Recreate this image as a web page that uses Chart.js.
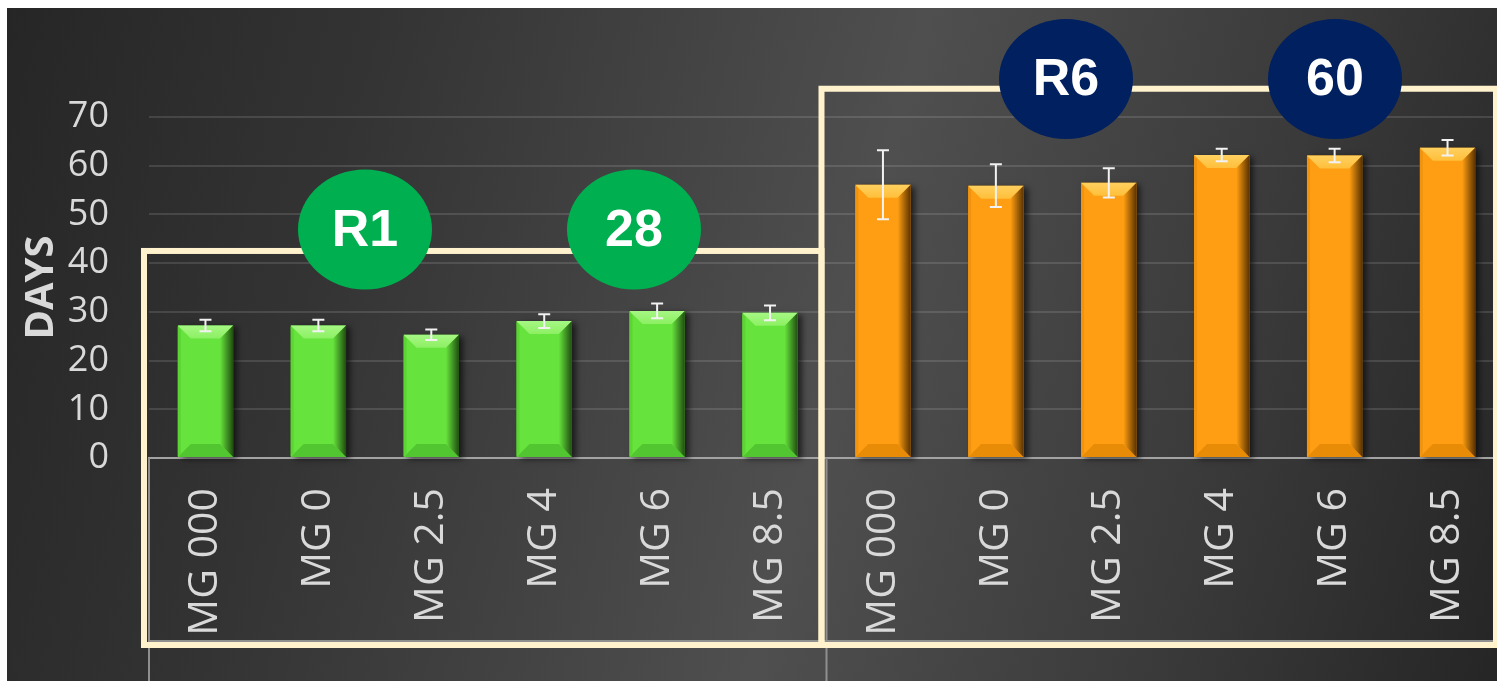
<!DOCTYPE html>
<html>
<head>
<meta charset="utf-8">
<title>Days to R1 / R6 by maturity group</title>
<script src="https://cdn.jsdelivr.net/npm/chart.js@4.4.0/dist/chart.umd.min.js"></script>
<style>
  html, body { margin: 0; padding: 0; background: #fff; overflow: hidden; }
  #wrap {
    position: absolute; left: 7px; top: 8px; width: 1497px; height: 673px;
    background: linear-gradient(105deg, #262626 0%, #333 22%, #4f4f4f 55%, #3b3b3b 78%, #252525 100%);
  }
  canvas { display: block; }
</style>
</head>
<body>
<div id="wrap"><canvas id="chart" width="1497" height="673"></canvas></div>
<script>
// =====================
// Data
// =====================
const mgLabels = ["MG 000", "MG 0", "MG 2.5", "MG 4", "MG 6", "MG 8.5"];
const r1Days = [27.2, 27.2, 25.3, 28.1, 30.2, 29.8];
const r1Err  = [1.2, 1.2, 1.1, 1.4, 1.5, 1.5];
const r6Days = [56.1, 55.9, 56.5, 62.2, 62.1, 63.7];
const r6Err  = [7.1, 4.4, 3.0, 1.3, 1.4, 1.6];
const yTicks = [0, 10, 20, 30, 40, 50, 60, 70];

const labels = mgLabels.concat(mgLabels);
const blanks = mgLabels.map(() => null);

// =====================
// Bar look (Excel bevel)
// =====================
const green  = { base: "#66e33c", top: "#8cf062", topEdge: "#a6f784", bottom: "#52c630", dark: "#1f4d10", left: "#5cd434" };
const orange = { base: "#ff9e12", top: "#ffbf3a", topEdge: "#ffd060", bottom: "#e88c08", dark: "#5a3300", left: "#f09410" };

function poly(ctx, pts, fill) {
  ctx.beginPath();
  ctx.moveTo(pts[0][0], pts[0][1]);
  for (let i = 1; i < pts.length; i++) ctx.lineTo(pts[i][0], pts[i][1]);
  ctx.closePath();
  ctx.fillStyle = fill;
  ctx.fill();
}

function drawBevel(ctx, bar, c) {
  const l = bar.x - bar.width / 2, r = bar.x + bar.width / 2;
  const t = bar.y, b = bar.base, d = 13;
  const tg = ctx.createLinearGradient(0, t, 0, t + d);
  tg.addColorStop(0, c.topEdge);
  tg.addColorStop(1, c.top);
  poly(ctx, [[l, t], [r, t], [r - d, t + d], [l + d, t + d]], tg);
  poly(ctx, [[l, b], [r, b], [r - d, b - d], [l + d, b - d]], c.bottom);
  const rg = ctx.createLinearGradient(r - d, 0, r, 0);
  rg.addColorStop(0, c.base);
  rg.addColorStop(1, c.dark);
  poly(ctx, [[r, t], [r, b], [r - d, b - d], [r - d, t + d]], rg);
  poly(ctx, [[l, t + 1], [l, b - 1], [l + 3, b - 4], [l + 3, t + 4]], c.left);
}

const errors = [r1Err, r6Err];
const looks = [green, orange];

const barPlugin = {
  id: "barStyle",
  beforeDatasetsDraw(chart) {
    const ctx = chart.ctx;
    ctx.save();
    ctx.shadowColor = "rgba(0,0,0,0.6)";
    ctx.shadowBlur = 6;
    ctx.shadowOffsetX = 4;
    ctx.shadowOffsetY = 2;
    ctx.fillStyle = "#222";
    chart.data.datasets.forEach((ds, di) => {
      chart.getDatasetMeta(di).data.forEach((bar, i) => {
        if (ds.data[i] == null) return;
        ctx.fillRect(bar.x - bar.width / 2, bar.y, bar.width, bar.base - bar.y);
      });
    });
    ctx.restore();
  },
  afterDatasetsDraw(chart) {
    const ctx = chart.ctx;
    const y = chart.scales.y;
    ctx.save();
    chart.data.datasets.forEach((ds, di) => {
      const meta = chart.getDatasetMeta(di);
      meta.data.forEach((bar, i) => {
        const v = ds.data[i];
        if (v == null) return;
        drawBevel(ctx, bar, looks[di]);
        // error bar
        const e = errors[di][i % 6];
        const yt = y.getPixelForValue(v + e), yb = y.getPixelForValue(v - e);
        ctx.strokeStyle = "#f2f2f2";
        ctx.lineWidth = 2;
        ctx.beginPath();
        ctx.moveTo(bar.x, yt); ctx.lineTo(bar.x, yb);
        ctx.moveTo(bar.x - 6, yt); ctx.lineTo(bar.x + 6, yt);
        ctx.moveTo(bar.x - 6, yb); ctx.lineTo(bar.x + 6, yb);
        ctx.stroke();
      });
    });
    ctx.restore();
  }
};

// =====================
// Group boxes + badges
// =====================
const annotPlugin = {
  id: "groups",
  afterDraw(chart) {
    const ctx = chart.ctx;
    const { left, right, bottom } = chart.chartArea;
    const x = chart.scales.x, y = chart.scales.y;
    const mid = (x.getPixelForValue(5) + x.getPixelForValue(6)) / 2;
    const H = chart.height;
    ctx.save();
    // category label frame
    ctx.strokeStyle = "#8f8f8f";
    ctx.lineWidth = 2;
    ctx.beginPath();
    ctx.moveTo(left, bottom); ctx.lineTo(left, H);
    ctx.moveTo(mid, bottom); ctx.lineTo(mid, H);
    ctx.moveTo(left, 633); ctx.lineTo(right, 633);
    ctx.stroke();
    // cream group boxes
    ctx.strokeStyle = "#fff2cc";
    ctx.lineWidth = 6;
    const t1 = y.getPixelForValue(42.5), t2 = y.getPixelForValue(75.8);
    ctx.strokeRect(left - 5, t1, mid - left, 637 - t1);
    ctx.strokeRect(mid - 5, t2, right - 3 - mid, 637 - t2);
    // badges
    const badges = [
      { text: "R1", cx: 358, cy: 221.5, color: "#00b050" },
      { text: "28", cx: 627, cy: 221.5, color: "#00b050" },
      { text: "R6", cx: 1059, cy: 71, color: "#002060" },
      { text: "60", cx: 1328, cy: 71, color: "#002060" }
    ];
    badges.forEach(b => {
      ctx.beginPath();
      ctx.ellipse(b.cx, b.cy, 67, 60, 0, 0, Math.PI * 2);
      ctx.fillStyle = b.color;
      ctx.fill();
      ctx.fillStyle = "#ffffff";
      ctx.font = "bold 52px 'Liberation Sans', Arial, sans-serif";
      ctx.textAlign = "center";
      ctx.textBaseline = "middle";
      ctx.fillText(b.text, b.cx, b.cy + 2);
    });
    ctx.restore();
  }
};

// =====================
// Chart.js
// =====================
Chart.defaults.font.family = "'Open Sans', sans-serif";

new Chart(document.getElementById("chart").getContext("2d"), {
  type: "bar",
  data: {
    labels: labels,
    datasets: [
      { label: "R1", data: r1Days.concat(blanks), backgroundColor: green.base },
      { label: "R6", data: blanks.concat(r6Days), backgroundColor: orange.base }
    ]
  },
  options: {
    responsive: false,
    animation: false,
    devicePixelRatio: 1,
    grouped: false,
    barPercentage: 0.49,
    categoryPercentage: 1.0,
    layout: { padding: { top: 109, left: 0, right: 0, bottom: 0 } },
    plugins: { legend: { display: false }, tooltip: { enabled: false } },
    scales: {
      x: {
        grid: { display: false, drawTicks: false },
        border: { display: true, color: "#a3a3a3", width: 2 },
        ticks: {
          color: "#d9d9d9",
          font: { size: 41 },
          minRotation: 90,
          maxRotation: 90,
          autoSkip: false,
          padding: 30
        },
        afterFit(scale) {
          scale.height = 223;
          scale.paddingLeft = 0;
          scale.paddingRight = 0;
        }
      },
      y: {
        min: 0,
        max: 70,
        grid: { color: "rgba(255,255,255,0.12)", lineWidth: 2, drawTicks: false },
        border: { display: false },
        afterBuildTicks(scale) { scale.ticks = yTicks.map(v => ({ value: v })); },
        ticks: { color: "#d9d9d9", font: { size: 36 }, padding: 40 },
        title: {
          display: true,
          text: "DAYS",
          color: "#d9d9d9",
          font: { size: 40, weight: "bold" },
          padding: { top: 11, bottom: 0 }
        },
        afterFit(scale) { scale.width = 142; }
      }
    }
  },
  plugins: [barPlugin, annotPlugin]
});
</script>
</body>
</html>
